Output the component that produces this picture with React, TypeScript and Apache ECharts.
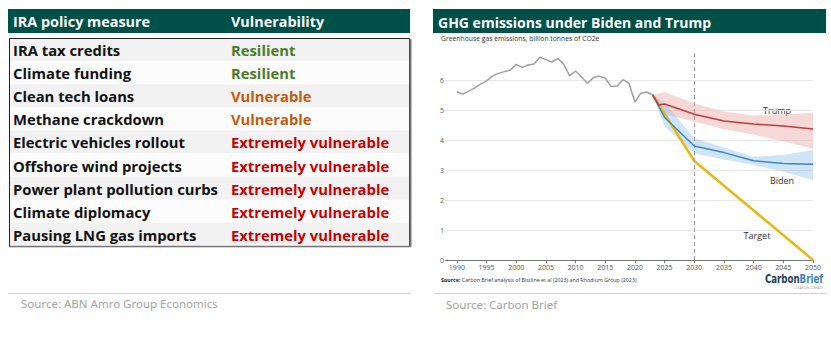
import React, { useEffect, useRef } from "react";
import * as echarts from "echarts";

// ---------- Table data ----------
const tableHeaders = ["IRA policy measure", "Vulnerability"];
const measures = [
  "IRA tax credits",
  "Climate funding",
  "Clean tech loans",
  "Methane crackdown",
  "Electric vehicles rollout",
  "Offshore wind projects",
  "Power plant pollution curbs",
  "Climate diplomacy",
  "Pausing LNG gas imports",
];
const vulnerability = [
  "Resilient",
  "Resilient",
  "Vulnerable",
  "Vulnerable",
  "Extremely vulnerable",
  "Extremely vulnerable",
  "Extremely vulnerable",
  "Extremely vulnerable",
  "Extremely vulnerable",
];

// ---------- Chart data ----------
const histYears = [
  1990, 1991, 1992, 1993, 1994, 1995, 1996, 1997, 1998, 1999, 2000, 2001, 2002, 2003, 2004, 2005, 2006,
  2007, 2008, 2009, 2010, 2011, 2012, 2013, 2014, 2015, 2016, 2017, 2018, 2019, 2020, 2021, 2022, 2023,
];
const histValues = [
  5.61, 5.53, 5.63, 5.74, 5.86, 5.97, 6.13, 6.22, 6.28, 6.33, 6.52, 6.42, 6.5, 6.53, 6.76, 6.68, 6.6,
  6.72, 6.53, 6.14, 6.3, 6.1, 5.89, 6.08, 6.13, 6.06, 5.78, 5.8, 6.01, 5.89, 5.26, 5.56, 5.6, 5.5,
];
const trumpYears = [2023, 2024, 2025, 2030, 2035, 2040, 2045, 2050];
const trumpValues = [5.5, 5.17, 5.2, 4.86, 4.63, 4.53, 4.47, 4.37];
const bidenYears = [2023, 2025, 2030, 2035, 2040, 2045, 2050];
const bidenValues = [5.5, 4.75, 3.8, 3.58, 3.31, 3.22, 3.19];
const targetYears = [2023, 2030, 2050];
const targetValues = [5.5, 3.3, 0];
const bandYears = [2023, 2025, 2030, 2035, 2040, 2045, 2050];
const trumpUpper = [5.5, 5.6, 5.22, 4.95, 4.82, 4.85, 4.9];
const trumpLower = [5.5, 4.85, 4.62, 4.36, 4.18, 3.95, 3.72];
const bidenUpper = [5.5, 5.25, 4.06, 3.75, 3.44, 3.5, 3.67];
const bidenLower = [5.5, 4.45, 3.56, 3.35, 3.17, 2.94, 2.67];
const xTicks = [1990, 1995, 2000, 2005, 2010, 2015, 2020, 2025, 2030, 2035, 2040, 2045, 2050];
const yTicks = [0, 1, 2, 3, 4, 5, 6];

const TEAL = "#00504a";
const statusColor: Record<string, string> = {
  Resilient: "#4a7d27",
  Vulnerable: "#c55a11",
  "Extremely vulnerable": "#c80000",
};

export default function App() {
  const ref = useRef<HTMLDivElement>(null);

  useEffect(() => {
    document.body.style.margin = "0";
    const chart = echarts.init(ref.current!, null, { renderer: "svg" });

    const rowTop = 38;
    const rowH = 23.1;
    const tableFont = "Open Sans";
    const fs = 14.8;

    const graphics: any[] = [];
    // left header
    graphics.push({ type: "rect", shape: { x: 8, y: 9, width: 402, height: 24 }, style: { fill: TEAL }, z: 1 });
    graphics.push({
      type: "text",
      style: { text: tableHeaders[0], x: 13, y: 21.5, fill: "#fff", fontFamily: tableFont, fontWeight: "bold", fontSize: 14.4, verticalAlign: "middle" },
      z: 2,
    });
    graphics.push({
      type: "text",
      style: { text: tableHeaders[1], x: 231, y: 21.5, fill: "#fff", fontFamily: tableFont, fontWeight: "bold", fontSize: 14.4, verticalAlign: "middle" },
      z: 2,
    });
    // rows
    measures.forEach((m, i) => {
      const y = rowTop + i * rowH;
      graphics.push({
        type: "rect",
        shape: { x: 9, y, width: 400, height: rowH },
        style: { fill: i % 2 === 0 ? "#f2f2f2" : "#fcfcfc" },
        z: 1,
      });
      graphics.push({
        type: "text",
        style: { text: m, x: 13, y: y + rowH / 2 + 0.5, fill: "#111", fontFamily: tableFont, fontWeight: "bold", fontSize: fs, verticalAlign: "middle" },
        z: 2,
      });
      const v = vulnerability[i];
      graphics.push({
        type: "text",
        style: { text: v, x: 231, y: y + rowH / 2 + 0.5, fill: statusColor[v], fontFamily: tableFont, fontWeight: "bold", fontSize: fs, verticalAlign: "middle" },
        z: 2,
      });
    });
    // table border
    graphics.push({
      type: "rect",
      shape: { x: 9.5, y: 38.5, width: 400, height: rowH * measures.length },
      style: { fill: "none", stroke: "#222", lineWidth: 1 },
      z: 3,
    });
    graphics.push({
      type: "line",
      shape: { x1: 410.5, y1: 39, x2: 410.5, y2: 38 + rowH * measures.length + 1 },
      style: { stroke: "#777", lineWidth: 2 },
      z: 3,
    });
    graphics.push({
      type: "line",
      shape: { x1: 10, y1: 38 + rowH * measures.length + 1, x2: 411, y2: 38 + rowH * measures.length + 1 },
      style: { stroke: "#999", lineWidth: 1 },
      z: 3,
    });
    // left divider & source
    graphics.push({ type: "line", shape: { x1: 8, y1: 293.5, x2: 410, y2: 293.5 }, style: { stroke: "#cfcfcf", lineWidth: 1 } });
    graphics.push({
      type: "text",
      style: { text: "Source: ABN Amro Group Economics", x: 21, y: 303.5, fill: "#a3a3a3", fontFamily: "Noto Sans", fontSize: 11.5, verticalAlign: "middle" },
    });

    // right header
    graphics.push({ type: "rect", shape: { x: 433, y: 9, width: 393, height: 24 }, style: { fill: TEAL }, z: 1 });
    graphics.push({
      type: "text",
      style: { text: "GHG emissions under Biden and Trump", x: 438, y: 22, fill: "#fff", fontFamily: tableFont, fontWeight: "bold", fontSize: 14, verticalAlign: "middle" },
      z: 2,
    });
    graphics.push({
      type: "text",
      style: { text: "Greenhouse gas emissions, billion tonnes of CO2e", x: 441, y: 38.5, fill: "#333", fontFamily: "Open Sans", fontSize: 6.8, verticalAlign: "middle" },
    });
    // series labels
    graphics.push({ type: "text", style: { text: "Trump", x: 777, y: 110, fill: "#333", fontFamily: "Open Sans", fontSize: 9, textAlign: "center", verticalAlign: "middle" } });
    graphics.push({ type: "text", style: { text: "Biden", x: 782, y: 180, fill: "#333", fontFamily: "Open Sans", fontSize: 9, textAlign: "center", verticalAlign: "middle" } });
    graphics.push({ type: "text", style: { text: "Target", x: 757, y: 235, fill: "#333", fontFamily: "Open Sans", fontSize: 9, textAlign: "center", verticalAlign: "middle" } });
    // inner source
    graphics.push({
      type: "text",
      style: {
        text: "{b|Source:} Carbon Brief analysis of Bistline et al (2023) and Rhodium Group (2023)",
        x: 441,
        y: 280,
        fill: "#333",
        fontFamily: "Open Sans",
        fontSize: 5.3,
        verticalAlign: "middle",
        rich: { b: { fontWeight: "bold", fontSize: 5.3, fontFamily: "Open Sans", fill: "#222" } },
      },
    });
    // logo
    const logoFont = "'DejaVu Sans Condensed', 'Liberation Sans Narrow', 'Roboto', sans-serif";
    graphics.push({
      type: "text",
      x: 823,
      y: 279.5,
      scaleX: 0.8,
      style: {
        text: "{c|Carbon}{b|Brief}",
        x: 0,
        y: 0,
        textAlign: "right",
        verticalAlign: "middle",
        rich: {
          c: { fontFamily: logoFont, fontWeight: "bold", fontSize: 12, fill: "#1d3f66" },
          b: { fontFamily: logoFont, fontWeight: "bold", fontSize: 12, fill: "#3b82c4" },
        },
      },
    });
    graphics.push({
      type: "text",
      style: { text: "CLEAR ON CLIMATE", x: 823, y: 287.5, textAlign: "right", verticalAlign: "middle", fontSize: 3.2, fill: "#999", fontFamily: "Open Sans" },
    });
    // right divider & source
    graphics.push({ type: "line", shape: { x1: 434, y1: 293.5, x2: 826, y2: 293.5 }, style: { stroke: "#cfcfcf", lineWidth: 1 } });
    graphics.push({
      type: "text",
      style: { text: "Source: Carbon Brief", x: 446, y: 304, fill: "#a3a3a3", fontFamily: "Noto Sans", fontSize: 11.5, verticalAlign: "middle" },
    });

    const band = (upper: number[], lower: number[], fill: string) => ({
      type: "custom",
      data: [[bandYears[0], upper[0]]],
      z: 1,
      silent: true,
      renderItem: (_params: any, api: any) => {
        const pts: number[][] = [];
        for (let i = 0; i < bandYears.length; i++) pts.push(api.coord([bandYears[i], upper[i]]));
        for (let i = bandYears.length - 1; i >= 0; i--) pts.push(api.coord([bandYears[i], lower[i]]));
        return { type: "polygon", shape: { points: pts }, style: { fill, opacity: 0.45 } };
      },
    });

    const pairs = (xs: number[], ys: number[]) => xs.map((x, i) => [x, ys[i]]);

    chart.setOption({
      animation: false,
      grid: { left: 445, top: 50, width: 368, height: 210, containLabel: false },
      xAxis: {
        type: "value",
        min: 1988,
        max: 2050,
        axisLine: { show: true, lineStyle: { color: "#777", width: 1 } },
        axisTick: { show: true, customValues: xTicks, length: 3, lineStyle: { color: "#777" } },
        axisLabel: { customValues: xTicks, fontSize: 7, color: "#555", margin: 4, fontFamily: "Open Sans", formatter: (v: number) => String(v) },
        splitLine: { show: false },
      },
      yAxis: {
        type: "value",
        min: 0,
        max: 7,
        axisLine: { show: false },
        axisTick: { show: false, customValues: yTicks },
        axisLabel: { customValues: yTicks, fontSize: 7, color: "#555", margin: 1, fontFamily: "Open Sans" },
        splitLine: { show: true, lineStyle: { color: "#e8e8e8", width: 1 } },
      },
      graphic: graphics,
      series: [
        band(trumpUpper, trumpLower, "#eaa9a4"),
        band(bidenUpper, bidenLower, "#94c6ec"),
        {
          type: "line",
          data: pairs(histYears, histValues),
          showSymbol: false,
          lineStyle: { color: "#a0a0a0", width: 1.5 },
          z: 3,
          markLine: {
            silent: true,
            symbol: "none",
            label: { show: false },
            lineStyle: { color: "#9a9a9a", type: [4, 3], width: 1 },
            data: [{ xAxis: 2030 }],
          },
        },
        {
          type: "line",
          data: pairs(targetYears, targetValues),
          showSymbol: false,
          lineStyle: { color: "#e6b812", width: 2.5 },
          z: 4,
        },
        {
          type: "line",
          data: pairs(bidenYears, bidenValues),
          showSymbol: false,
          lineStyle: { color: "#3a86c6", width: 1.5 },
          z: 5,
        },
        {
          type: "line",
          data: pairs(trumpYears, trumpValues),
          showSymbol: false,
          lineStyle: { color: "#c8383a", width: 1.5 },
          z: 5,
        },
      ],
    });

    return () => chart.dispose();
  }, []);

  return <div ref={ref} style={{ width: 831, height: 340 }} />;
}
